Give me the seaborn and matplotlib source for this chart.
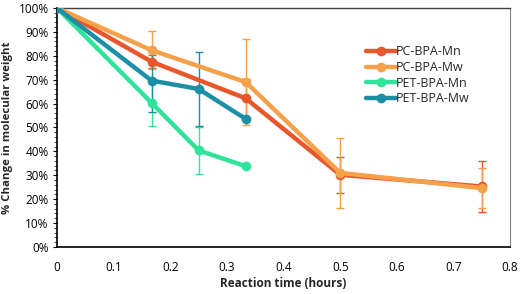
import matplotlib
matplotlib.use('Agg')
import matplotlib.pyplot as plt
import seaborn as sns
import pandas as pd
from matplotlib.ticker import MultipleLocator, PercentFormatter

# data
time_pc = [0, 0.167, 0.333, 0.5, 0.75]
pc_mn = [100, 77.5, 62.2, 30.2, 25.3]
pc_mn_err = [0, 2.7, 8.0, 7.5, 10.5]
pc_mw = [100, 82.3, 69.0, 31.0, 24.6]
pc_mw_err = [0, 8.0, 17.8, 14.5, 8.5]

time_pet = [0, 0.167, 0.25, 0.333]
pet_mn = [100, 60.3, 40.4, 33.8]
pet_mn_err = [0, 9.5, 9.8, 0]
pet_mw = [100, 69.6, 66.1, 53.6]
pet_mw_err = [0, 13.2, 15.4, 0]

labels = ['PC-BPA-Mn', 'PC-BPA-Mw', 'PET-BPA-Mn', 'PET-BPA-Mw']
colors = ['#E8572C', '#F5A04A', '#2FE39A', '#1C8EA6']

frames = []
for lab, t, v, e in [(labels[0], time_pc, pc_mn, pc_mn_err),
                     (labels[1], time_pc, pc_mw, pc_mw_err),
                     (labels[2], time_pet, pet_mn, pet_mn_err),
                     (labels[3], time_pet, pet_mw, pet_mw_err)]:
    frames.append(pd.DataFrame({'time': t, 'value': v, 'err': e, 'series': lab}))
df = pd.concat(frames, ignore_index=True)

sns.set_theme(style='white')
plt.rcParams['font.family'] = ['Open Sans', 'DejaVu Sans']

fig = plt.figure(figsize=(5.2, 2.94), dpi=100)
ax = fig.add_axes([0.1096, 0.16, 0.8714, 0.813])

pal = dict(zip(labels, colors))

# error bars first, drawn under the lines
for lab in labels:
    sub = df[(df['series'] == lab) & (df['err'] > 0)]
    ax.errorbar(sub['time'], sub['value'], yerr=sub['err'], fmt='none',
                ecolor=pal[lab], elinewidth=1.0, capsize=3, capthick=1.0, zorder=2)

sns.lineplot(data=df, x='time', y='value', hue='series', hue_order=labels,
             palette=pal, marker='o', markersize=7, markeredgewidth=0,
             linewidth=3.2, ax=ax, zorder=3, legend=True)

ax.set_xlim(0, 0.8)
ax.set_ylim(0, 100)
ax.set_xticks([0, 0.1, 0.2, 0.3, 0.4, 0.5, 0.6, 0.7, 0.8])
ax.set_xticklabels(['0', '0.1', '0.2', '0.3', '0.4', '0.5', '0.6', '0.7', '0.8'])
ax.yaxis.set_major_locator(MultipleLocator(10))
ax.yaxis.set_minor_locator(MultipleLocator(2))
ax.yaxis.set_major_formatter(PercentFormatter(decimals=0))
ax.tick_params(axis='both', labelsize=8.5, colors='black')
ax.tick_params(axis='x', bottom=False, pad=4)
ax.tick_params(axis='y', which='major', left=True, length=3, width=0.8, direction='out', pad=3)
ax.tick_params(axis='y', which='minor', left=True, length=2, width=0.6, direction='out')

ax.set_xlabel('Reaction time (hours)', fontsize=8.5, fontweight='bold', labelpad=2)
ax.set_ylabel('% Change in molecular weight', fontsize=8.2, fontweight='bold', labelpad=4)

for side in ['left', 'bottom']:
    ax.spines[side].set_color('black')
    ax.spines[side].set_linewidth(1.2)
ax.spines['top'].set_color('#404040')
ax.spines['top'].set_linewidth(1.0)
ax.spines['right'].set_color('#808080')
ax.spines['right'].set_linewidth(0.8)

leg = ax.legend(loc='upper left', bbox_to_anchor=(0.67, 0.865), frameon=False,
                fontsize=9, handlelength=2.4, handletextpad=0.05,
                labelspacing=0.22, borderaxespad=0)
for h in leg.legend_handles:
    h.set_linewidth(3.2)

fig.savefig('out.png', dpi=100)
